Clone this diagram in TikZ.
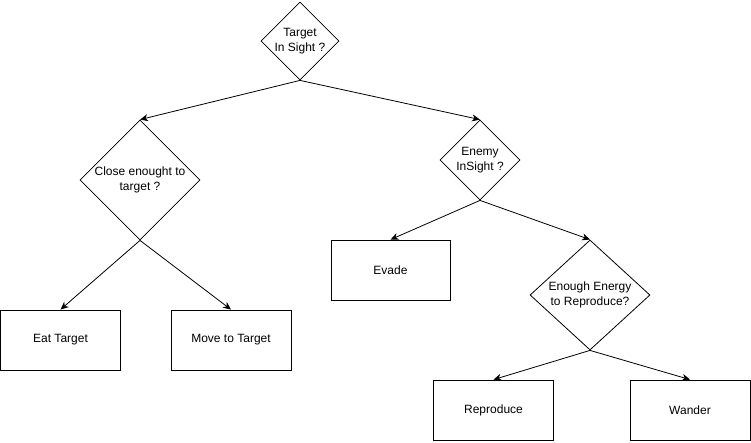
\documentclass[tikz,border=0pt]{standalone}
\usepackage{fontspec}
\setmainfont{Liberation Sans}
\usetikzlibrary{arrows.meta}
\usetikzlibrary{shapes.geometric}

\begin{document}
\begin{tikzpicture}[x=1pt, y=-1pt, line width=0.8pt,
    font=\fontsize{12}{15}\selectfont,
    decision/.style={diamond, draw, align=center, inner sep=-4pt},
    action/.style={rectangle, draw, align=center, inner sep=0pt, minimum width=120pt, minimum height=60pt},
    link/.style={-{Stealth[length=8pt, width=7pt, inset=2.5pt]}}]
      \useasboundingbox (0, 0) rectangle (751, 442);

      \node[decision, minimum width=78pt, minimum height=78pt] (target) at (300, 41) {Target\\In Sight ?};
      \node[decision, minimum width=120pt, minimum height=120pt] (close) at (140, 180) {Close enought to\\target ?};
      \node[decision, minimum width=80pt, minimum height=80pt] (enemy) at (480, 160) {Enemy\\InSight ?};
      \node[decision, minimum width=120pt, minimum height=110pt] (energy) at (590, 295) {Enough Energy\\to Reproduce?};

      \node[action] (eat) at (60.5, 340) {Eat Target};
      \node[action] (move) at (231, 340) {Move to Target};
      \node[action, minimum width=119pt] (evade) at (390.5, 270) {Evade};
      \node[action] (reproduce) at (493.5, 410) {Reproduce};
      \node[action] (wander) at (690, 410) {Wander};

      \draw[link] (target.south) -- (close.north);
      \draw[link] (target.south) -- (enemy.north);
      \draw[link] (close.south) -- (eat.north);
      \draw[link] (close.south) -- (move.north);
      \draw[link] (enemy.south) -- (evade.north);
      \draw[link] (enemy.south) -- (energy.north);
      \draw[link] (energy.south) -- (reproduce.north);
      \draw[link] (energy.south) -- (wander.north);
    \end{tikzpicture}
\end{document}
